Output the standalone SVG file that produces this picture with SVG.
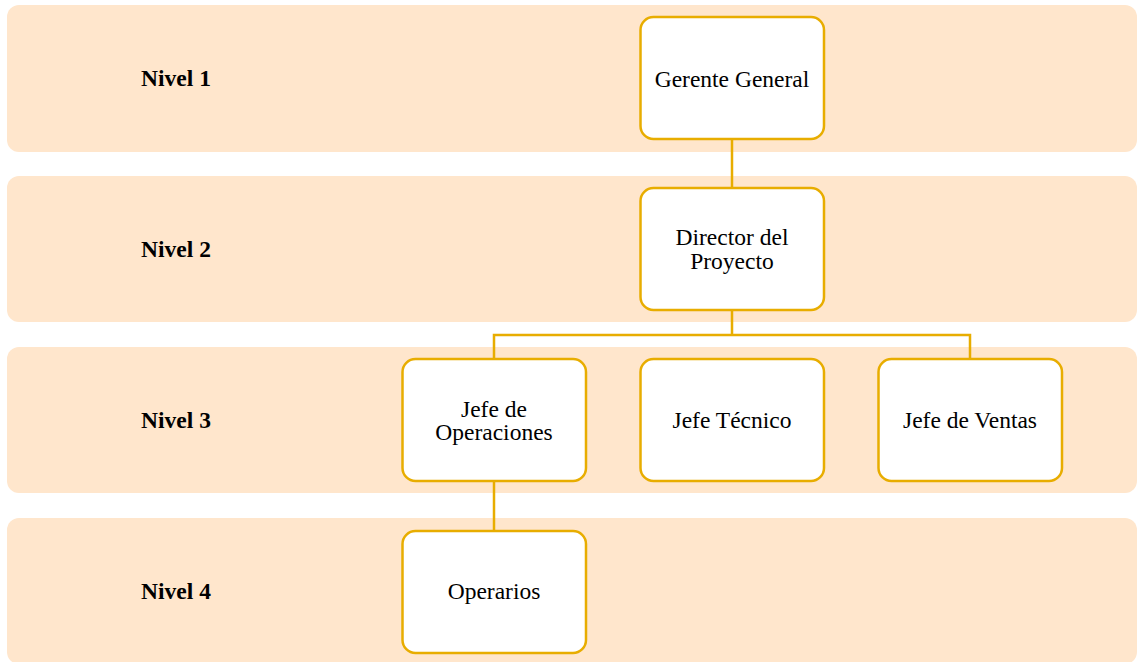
<svg xmlns="http://www.w3.org/2000/svg" width="1137" height="662" viewBox="0 0 1137 662">
<style>
.band{fill:#FFE6CC;stroke:none}
.node{fill:#FFFFFF;stroke:#E8AD00;stroke-width:2.5}
.conn{fill:none;stroke:#E8AD00;stroke-width:2.5}
.lvl{font-family:"Liberation Serif","Times New Roman",serif;font-size:23.5px;font-weight:bold;fill:#000;text-anchor:middle}
.lbl{font-family:"Liberation Serif","Times New Roman",serif;font-size:23.5px;fill:#000;text-anchor:middle}
</style>
<g id="bands">
<rect class="band" x="7" y="5" width="1130" height="147" rx="12"/>
<rect class="band" x="7" y="176" width="1130" height="146" rx="12"/>
<rect class="band" x="7" y="347" width="1130" height="146" rx="12"/>
<rect class="band" x="7" y="518" width="1130" height="146" rx="12"/>
<text class="lvl" x="176" y="86">Nivel 1</text>
<text class="lvl" x="176" y="257">Nivel 2</text>
<text class="lvl" x="176" y="428">Nivel 3</text>
<text class="lvl" x="176" y="599">Nivel 4</text>
</g>
<g id="connectors">
<path class="conn" d="M732 139V188"/>
<path class="conn" d="M732 310V335M494 359V335H970V359"/>
<path class="conn" d="M494 481V531"/>
</g>
<g id="gerente">
<rect class="node" x="640.5" y="17" width="183.5" height="122" rx="13"/>
<text class="lbl" x="732" y="87">Gerente General</text>
</g>
<g id="director">
<rect class="node" x="640.5" y="188" width="183.5" height="122" rx="13"/>
<text class="lbl" x="732" y="244.5">Director del</text>
<text class="lbl" x="732" y="268.5">Proyecto</text>
</g>
<g id="jefe-operaciones">
<rect class="node" x="402.5" y="359" width="183.5" height="122" rx="13"/>
<text class="lbl" x="494" y="416.5">Jefe de</text>
<text class="lbl" x="494" y="440">Operaciones</text>
</g>
<g id="jefe-tecnico">
<rect class="node" x="640.5" y="359" width="183.5" height="122" rx="13"/>
<text class="lbl" x="732" y="427.5">Jefe Técnico</text>
</g>
<g id="jefe-ventas">
<rect class="node" x="878.5" y="359" width="183.5" height="122" rx="13"/>
<text class="lbl" x="970" y="427.5">Jefe de Ventas</text>
</g>
<g id="operarios">
<rect class="node" x="402.5" y="531" width="183.5" height="122" rx="13"/>
<text class="lbl" x="494" y="599">Operarios</text>
</g>
</svg>
